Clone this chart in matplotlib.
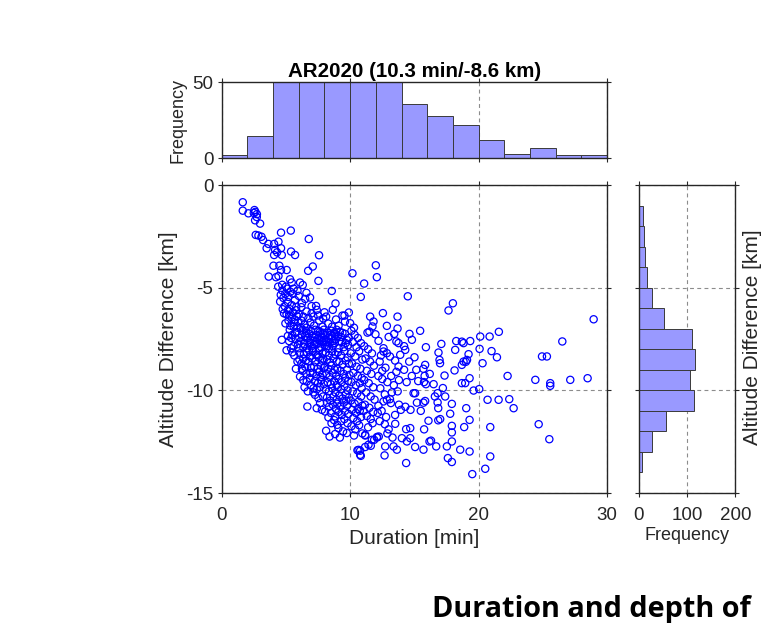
import numpy as np
import matplotlib
matplotlib.use('Agg')
from matplotlib import pyplot as plt

plt.rcParams['font.family'] = ['Liberation Sans', 'DejaVu Sans']
plt.rcParams['axes.unicode_minus'] = False

# duration [min], altitude difference [km], by duration strip
strip_0_4 = [(1.64, -0.84), (1.64, -1.25), (2.08, -1.38), (2.55, -1.22), (2.62, -1.31), (2.74, -1.42),
             (2.5, -1.36), (2.73, -1.56), (2.6, -1.72), (2.99, -1.88), (2.65, -2.43), (2.86, -2.46),
             (3.1, -2.52), (3.22, -2.68), (3.64, -2.87), (3.5, -3.08), (3.66, -4.46)]
strip_4_5 = [(4.62, -2.32), (4.42, -2.76), (4.08, -2.87), (4.16, -3.16), (4.62, -3.08), (4.68, -3.41),
             (4.08, -3.41), (4.31, -3.28), (4.03, -3.93), (4.49, -3.93), (4.62, -4.14), (4.23, -4.49),
             (4.42, -4.43), (4.71, -4.86), (4.55, -5.68), (4.72, -5.14), (4.95, -5.3), (4.8, -5.5),
             (4.9, -5.9), (4.68, -7.54), (4.85, -6.25), (4.96, -6.74), (4.4, -4.95), (4.75, -6.05),
             (4.6, -5.35)]
strip_5_6 = [(5.38, -2.22), (5.4, -3.24), (5.71, -3.41), (5.06, -4.14), (5.32, -4.59), (5.45, -4.75),
             (5.0, -4.95), (5.1, -5.05), (5.35, -5.2), (5.2, -5.45), (5.55, -5.3), (5.7, -5.6),
             (5.45, -5.85), (5.6, -5.05), (5.15, -5.7), (5.8, -5.95), (5.9, -5.15), (5.3, -6.05),
             (5.55, -6.2), (5.8, -6.1), (5.45, -6.45), (5.2, -6.6), (5.7, -6.55), (5.95, -6.7),
             (5.35, -6.85), (5.6, -6.9), (5.9, -6.95), (5.05, -6.3), (5.3, -7.05), (5.5, -7.3),
             (5.25, -7.6), (5.6, -7.85), (5.85, -7.15), (5.95, -7.75), (5.75, -7.5), (5.4, -7.95),
             (5.15, -7.35), (5.05, -8.05), (5.65, -8.3), (5.9, -8.6), (5.5, -8.15), (5.78, -8.95),
             (5.25, -6.35), (5.62, -6.68), (5.88, -6.4), (5.15, -6.1), (5.42, -7.45), (5.72, -7.2)]
strip_6_7 = [(6.78, -2.63), (6.73, -4.18), (6.1, -4.75), (6.31, -4.87), (6.0, -5.4), (6.25, -5.75),
             (6.5, -5.55), (6.2, -5.95), (6.6, -5.25), (6.88, -5.48), (6.6, -6.16), (6.36, -6.41),
             (6.75, -6.49), (6.0, -6.3), (6.2, -6.6), (6.45, -6.8), (6.9, -6.7), (6.15, -6.95),
             (6.6, -6.95), (6.05, -7.45), (6.3, -7.05), (6.25, -7.3), (6.45, -7.55), (6.35, -7.9),
             (6.6, -7.2), (6.7, -7.45), (6.85, -7.7), (6.65, -7.95), (6.95, -7.1), (6.15, -7.6),
             (6.5, -7.35), (6.8, -7.25), (6.9, -7.55), (6.0, -7.95), (6.4, -7.75), (6.55, -7.1),
             (6.1, -8.2), (6.35, -8.45), (6.6, -8.15), (6.85, -8.35), (6.2, -8.7), (6.5, -8.85),
             (6.75, -8.6), (6.95, -8.9), (6.3, -9.05), (6.6, -9.2), (6.1, -9.33), (6.62, -9.57),
             (6.85, -9.4), (6.45, -9.85), (6.7, -10.05), (6.92, -9.75), (6.67, -10.79), (6.25, -8.95),
             (6.8, -8.05), (6.4, -8.25), (6.05, -8.5), (6.55, -8.55), (6.9, -9.15), (6.35, -9.5)]
strip_7_8 = [(7.58, -3.42), (7.09, -3.97), (7.53, -4.67), (7.35, -5.89), (7.0, -5.9), (7.4, -6.08),
             (7.14, -6.41), (7.2, -6.85), (7.6, -6.6), (7.85, -6.9), (7.0, -6.25), (7.5, -6.35),
             (7.9, -6.5), (7.05, -7.35), (7.15, -7.6), (7.0, -7.85), (7.3, -7.05), (7.35, -7.3),
             (7.45, -7.5), (7.4, -7.75), (7.55, -7.95), (7.65, -7.15), (7.7, -7.4), (7.8, -7.65),
             (7.75, -7.9), (7.95, -7.05), (7.2, -7.75), (7.6, -7.55), (7.9, -7.2), (7.1, -7.95),
             (7.5, -7.1), (7.25, -7.45), (7.85, -7.45), (7.95, -7.6), (7.1, -8.1), (7.35, -8.25),
             (7.6, -8.05), (7.85, -8.2), (7.05, -8.45), (7.3, -8.6), (7.55, -8.4), (7.8, -8.55),
             (7.2, -8.85), (7.45, -8.95), (7.7, -8.8), (7.95, -8.9), (7.1, -9.15), (7.35, -9.3),
             (7.6, -9.1), (7.85, -9.25), (7.25, -9.55), (7.5, -9.65), (7.75, -9.5), (7.95, -9.7),
             (7.15, -9.9), (7.4, -9.95), (7.65, -9.85), (7.27, -10.22), (7.53, -10.38), (7.66, -10.62),
             (7.4, -10.87), (7.8, -10.95), (7.9, -10.3), (7.14, -10.1), (7.45, -8.3), (7.7, -9.35),
             (7.9, -8.45)]
strip_8_9 = [(8.57, -5.16), (8.86, -5.77), (8.65, -6.08), (8.13, -6.41), (8.3, -6.75), (8.6, -6.9),
             (8.9, -6.55), (8.0, -6.2), (8.0, -7.3), (8.1, -7.55), (8.05, -7.8), (8.25, -7.2),
             (8.3, -7.45), (8.4, -7.7), (8.35, -7.95), (8.55, -7.1), (8.6, -7.35), (8.7, -7.6),
             (8.65, -7.85), (8.85, -7.25), (8.9, -7.5), (8.2, -7.85), (8.45, -7.3), (8.8, -7.7),
             (8.15, -7.65), (8.5, -7.5), (8.95, -7.05), (8.75, -7.2), (8.1, -8.15), (8.35, -8.3),
             (8.6, -8.1), (8.85, -8.25), (8.2, -8.5), (8.45, -8.65), (8.7, -8.45), (8.95, -8.6),
             (8.05, -8.85), (8.3, -8.95), (8.55, -8.8), (8.8, -9.0), (8.15, -9.2), (8.4, -9.35),
             (8.65, -9.15), (8.9, -9.3), (8.25, -9.6), (8.5, -9.7), (8.75, -9.55), (8.95, -9.75),
             (8.1, -9.95), (8.35, -10.05), (8.6, -9.9), (8.85, -10.1), (8.2, -10.35), (8.45, -10.5),
             (8.7, -10.3), (8.95, -10.45), (8.05, -11.03), (8.31, -11.32), (8.83, -11.27), (8.13, -11.97),
             (8.83, -12.13), (8.55, -11.6), (8.35, -10.8), (8.65, -10.7), (8.9, -10.9), (8.5, -11.1),
             (8.2, -10.6), (8.75, -11.45), (8.4, -12.25)]
strip_9_10 = [(9.4, -6.36), (9.56, -6.36), (9.9, -6.21), (9.6, -6.65), (9.1, -6.85), (9.2, -7.15),
              (9.3, -7.4), (9.35, -7.65), (9.5, -7.9), (9.6, -7.25), (9.75, -7.55), (9.85, -7.8),
              (9.05, -7.35), (9.4, -7.2), (9.15, -7.6), (9.65, -7.7), (9.9, -7.45), (9.1, -7.95),
              (9.05, -8.15), (9.3, -8.3), (9.55, -8.1), (9.8, -8.4), (9.15, -8.6), (9.4, -8.75),
              (9.65, -8.55), (9.9, -8.7), (9.0, -8.95), (9.25, -9.05), (9.5, -9.2), (9.75, -9.0),
              (9.1, -9.45), (9.35, -9.6), (9.6, -9.4), (9.85, -9.55), (9.05, -9.85), (9.3, -9.95),
              (9.55, -9.8), (9.8, -10.0), (9.15, -10.25), (9.4, -10.4), (9.65, -10.2), (9.9, -10.35),
              (9.0, -10.65), (9.25, -10.8), (9.5, -10.6), (9.75, -10.75), (9.1, -11.05), (9.35, -11.2),
              (9.6, -11.0), (9.85, -11.15), (9.0, -11.68), (9.09, -11.84), (9.74, -12.08), (9.3, -11.5),
              (9.55, -11.4), (9.8, -11.6), (9.45, -12.0), (9.2, -12.3), (9.7, -10.5), (9.95, -9.25)]
strip_10_11 = [(10.18, -4.3), (10.83, -5.45), (10.0, -6.73), (10.3, -6.95), (10.1, -7.1), (10.35, -7.3),
               (10.6, -7.45), (10.85, -7.7), (10.2, -7.65), (10.5, -7.9), (10.05, -8.2), (10.4, -8.35),
               (10.7, -8.1), (10.95, -8.5), (10.15, -8.7), (10.5, -8.85), (10.8, -8.95), (10.25, -9.15),
               (10.6, -9.3), (10.9, -9.4), (10.1, -9.6), (10.45, -9.75), (10.75, -9.65), (10.2, -10.05),
               (10.55, -10.15), (10.85, -10.3), (10.05, -10.5), (10.35, -10.65), (10.65, -10.55),
               (10.95, -10.75), (10.15, -10.95), (10.45, -11.1), (10.75, -11.0), (10.25, -11.35),
               (10.55, -11.5), (10.85, -11.3), (10.1, -11.75), (10.4, -11.9), (10.7, -11.7), (10.3, -12.2),
               (10.65, -12.9), (10.78, -13.14), (10.57, -12.92), (10.78, -12.94), (10.83, -13.19),
               (10.95, -12.1), (10.6, -10.9), (10.9, -9.9)]
strip_11_12 = [(11.09, -4.8), (11.56, -6.41), (11.82, -6.65), (11.74, -6.89), (11.35, -7.19), (11.5, -7.14),
               (11.97, -7.27), (11.1, -7.85), (11.4, -8.0), (11.7, -8.2), (11.2, -8.45), (11.55, -8.6),
               (11.85, -8.8), (11.3, -9.05), (11.65, -9.2), (11.1, -9.5), (11.45, -9.65), (11.8, -9.85),
               (11.25, -10.1), (11.6, -10.3), (11.9, -10.45), (11.15, -10.7), (11.5, -10.85), (11.8, -11.05),
               (11.3, -11.25), (11.6, -11.4), (11.17, -12.17), (11.43, -12.65), (11.69, -12.41),
               (11.17, -12.76), (11.61, -12.7), (11.87, -12.41), (11.17, -12.2), (11.4, -11.8),
               (11.75, -11.6), (11.05, -11.0)]
strip_12_14 = [(12.0, -3.91), (12.08, -4.49), (12.55, -6.24), (12.86, -6.86), (12.21, -7.59), (12.6, -7.95),
               (12.6, -8.11), (12.86, -8.19), (12.3, -8.6), (12.75, -8.9), (12.2, -9.3), (12.5, -9.45),
               (12.9, -9.6), (12.35, -9.9), (12.7, -10.2), (12.6, -10.54), (12.86, -10.46), (12.2, -10.75),
               (12.45, -11.0), (12.8, -11.3), (12.3, -11.5), (12.1, -12.27), (12.23, -12.25), (12.08, -12.3),
               (12.73, -12.73), (12.68, -13.17), (12.9, -12.1), (12.7, -11.65), (12.15, -11.1), (12.5, -9.05),
               (12.4, -8.3), (13.69, -6.41), (13.69, -6.99), (13.43, -7.25), (13.6, -7.62), (13.77, -7.7),
               (13.0, -7.4), (13.1, -8.35), (13.9, -8.27), (13.77, -8.84), (13.5, -8.55), (13.6, -9.1),
               (13.2, -9.3), (13.8, -9.5), (13.4, -9.75), (13.1, -10.43), (13.17, -10.62), (13.8, -10.7),
               (13.95, -10.95), (13.5, -11.2), (13.51, -11.63), (13.64, -12.89), (13.38, -12.73),
               (13.0, -11.9), (13.25, -10.1), (13.7, -10.05), (13.3, -12.3)]
strip_14_18 = [(14.49, -5.42), (14.62, -7.25), (14.81, -7.54), (14.2, -7.85), (14.29, -8.03), (14.6, -8.6),
               (14.2, -9.0), (14.8, -9.3), (14.4, -9.6), (14.94, -10.14), (14.3, -10.8), (14.7, -10.95),
               (14.68, -11.84), (14.36, -11.89), (14.03, -12.33), (14.42, -12.49), (14.68, -12.33),
               (14.36, -13.54), (15.45, -7.1), (15.9, -7.9), (15.01, -8.39), (15.84, -8.76), (15.7, -8.95),
               (15.8, -9.3), (15.75, -9.6), (15.9, -9.7), (15.06, -10.14), (15.2, -10.6), (15.71, -10.6),
               (15.84, -10.52), (15.76, -11.9), (15.71, -12.89), (15.06, -12.76), (15.3, -9.55),
               (15.5, -11.0), (15.15, -9.0), (16.88, -8.16), (16.96, -8.52), (17.0, -8.68), (16.81, -10.14),
               (16.86, -10.87), (16.81, -10.59), (16.86, -11.46), (16.7, -12.73), (16.1, -11.48),
               (16.18, -12.49), (16.3, -12.45), (16.5, -9.7), (16.2, -9.2), (16.6, -10.3), (17.66, -6.11),
               (17.1, -7.74), (17.01, -11.4), (17.22, -9.89), (17.35, -9.28), (17.92, -11.73),
               (17.92, -12.05), (17.92, -12.49), (17.61, -13.3), (17.92, -13.49), (17.53, -12.73),
               (17.92, -10.66), (17.79, -11.14), (17.4, -10.3)]
strip_18_30 = [(18.0, -5.76), (18.26, -7.6), (18.7, -7.63), (18.83, -7.7), (19.35, -7.6), (18.18, -8.03),
               (19.22, -8.24), (18.83, -8.6), (19.1, -8.52), (18.13, -9.03), (18.7, -8.76), (19.01, -8.61),
               (18.7, -9.65), (19.3, -9.41), (18.96, -9.65), (19.61, -10.01), (19.3, -11.44), (19.04, -10.87),
               (18.88, -11.79), (18.57, -12.89), (19.3, -12.98), (19.51, -14.08), (20.13, -7.38),
               (20.86, -7.38), (21.58, -7.15), (20.08, -7.98), (21.01, -8.09), (21.43, -8.39), (20.31, -8.68),
               (20.05, -9.94), (20.7, -10.46), (21.56, -10.46), (20.91, -11.79), (20.91, -13.22),
               (20.52, -13.82), (22.26, -9.3), (22.39, -10.43), (22.73, -10.87), (24.94, -8.35),
               (25.32, -8.35), (24.42, -9.49), (25.58, -9.65), (25.58, -9.78), (24.68, -11.65),
               (25.51, -12.38), (26.52, -7.62), (27.14, -9.49), (28.49, -9.41), (28.96, -6.54)]

# histogram counts
dur_edges = np.arange(0, 32, 2)
dur_counts = [2, 15, 95, 135, 140, 105, 65, 36, 28, 22, 12, 3, 7, 2, 2]
alt_edges = np.arange(-14, 0, 1)
alt_counts = [7, 28, 57, 115, 106, 117, 111, 51, 28, 16, 13, 11, 9]

title = 'AR2020 (10.3 min/-8.6 km)'

pts = np.array(strip_0_4 + strip_4_5 + strip_5_6 + strip_6_7 + strip_7_8 + strip_8_9 + strip_9_10
               + strip_10_11 + strip_11_12 + strip_12_14 + strip_14_18 + strip_18_30)
dur = pts[:, 0]
alt = pts[:, 1]

W, H = 763, 623
fig = plt.figure(figsize=(W / 100, H / 100), dpi=100)

def px(x0, y0, x1, y1):
    # box in pixel coords (top-left origin) -> figure fraction
    return [x0 / W, 1 - y1 / H, (x1 - x0) / W, (y1 - y0) / H]

ax = fig.add_axes(px(221.7, 185, 607, 493))
axt = fig.add_axes(px(221.7, 82.3, 607, 158.3))
axr = fig.add_axes(px(639, 185, 735.3, 493))

dark = '#262626'
barcol = '#9999ff'

def style(a):
    a.tick_params(direction='out', length=3, width=0.8, colors=dark, labelsize=13.5,
                  top=True, right=True, pad=3)
    a.tick_params(axis='x', pad=7)
    for s in a.spines.values():
        s.set_color(dark)
        s.set_linewidth(1.0)
    a.set_axisbelow(True)

gridkw = dict(color='#8c8c8c', linestyle=(0, (3.5, 3)), linewidth=0.8)

# main scatter
ax.scatter(dur, alt, s=27, facecolors='none', edgecolors='#0000ff', linewidths=0.9)
ax.set_xlim(0, 30)
ax.set_ylim(-15, 0)
ax.set_xticks([0, 10, 20, 30])
ax.set_yticks([-15, -10, -5, 0])
ax.grid(True, **gridkw)
style(ax)
ax.set_xlabel('Duration [min]', fontsize=15, color=dark, labelpad=4)
ax.set_ylabel('Altitude Difference [km]', fontsize=15, color=dark, labelpad=6)

# top histogram
axt.bar(dur_edges[:-1], dur_counts, width=2, align='edge', color=barcol,
        edgecolor='#3a3a3a', linewidth=0.7)
axt.set_xlim(0, 30)
axt.set_ylim(0, 50)
axt.set_xticks([0, 10, 20, 30])
axt.set_xticklabels([])
axt.set_yticks([0, 50])
axt.grid(True, axis='x', **gridkw)
style(axt)
axt.set_ylabel('Frequency', fontsize=13, color=dark)
axt.set_title(title, fontsize=14.8, fontweight='bold', color='black', pad=4)

# right histogram
axr.barh(alt_edges[:-1], alt_counts, height=1, align='edge', color=barcol,
         edgecolor='#3a3a3a', linewidth=0.7)
axr.set_xlim(0, 200)
axr.set_ylim(-15, 0)
axr.set_xticks([0, 100, 200])
axr.set_yticks([-15, -10, -5, 0])
axr.set_yticklabels([])
axr.grid(True, **gridkw)
style(axr)
axr.set_xlabel('Frequency', fontsize=13, color=dark, labelpad=2)

# neighbouring panel label at the right edge
fig.text(753 / W, 1 - 337 / H, 'Altitude Difference [km]', rotation=90, fontsize=15,
         color=dark, ha='center', va='center')

# slide caption at the bottom
fig.text(432 / W, 1 - 617 / H, 'Duration and depth of', fontsize=20.8, fontweight='bold',
         family=['Open Sans', 'DejaVu Sans'], ha='left', va='baseline', color='black')

fig.savefig('out.png', dpi=100)
